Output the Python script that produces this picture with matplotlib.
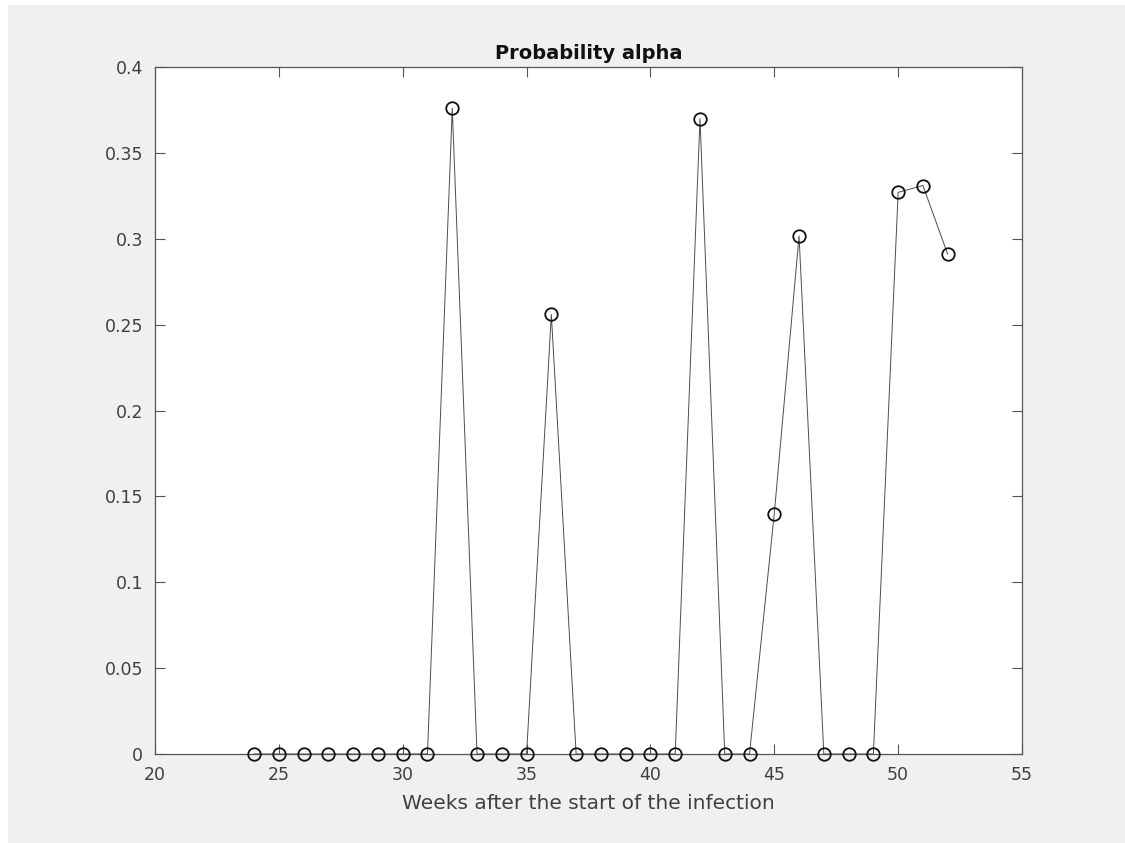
import matplotlib
matplotlib.use('Agg')
import matplotlib.pyplot as plt
from matplotlib.patches import Rectangle

weeks = list(range(24, 53))
alpha = [0, 0, 0, 0, 0, 0, 0, 0,          # 24-31
         0.376, 0, 0, 0,                   # 32-35
         0.256, 0, 0, 0, 0, 0,             # 36-41
         0.370, 0, 0,                      # 42-44
         0.140, 0.3016, 0, 0, 0,           # 45-49
         0.327, 0.331, 0.291]              # 50-52

xticks = [20, 25, 30, 35, 40, 45, 50, 55]
yticks = [0, 0.05, 0.1, 0.15, 0.2, 0.25, 0.3, 0.35, 0.4]
yticklabels = ['0', '0.05', '0.1', '0.15', '0.2', '0.25', '0.3', '0.35', '0.4']

fig = plt.figure(figsize=(11.25, 8.43), dpi=100, facecolor='white')
# MATLAB-style grey panel, with a thin white strip on the left and top
fig.patches.append(Rectangle((8 / 1125, 0), 1 - 8 / 1125, 1 - 5 / 843,
                             transform=fig.transFigure, facecolor='#f0f0f0',
                             edgecolor='none', zorder=-10))

ax = fig.add_axes([155 / 1125, 1 - 754 / 843, (1022 - 155) / 1125, (754 - 67) / 843])
ax.set_facecolor('white')

ax.plot(weeks, alpha, color='#4d4d4d', linewidth=0.7, marker='o',
        markersize=9, markerfacecolor='none', markeredgecolor='#111111',
        markeredgewidth=1.3, clip_on=False, zorder=3)

ax.set_xlim(20, 55)
ax.set_ylim(0, 0.4)
ax.set_xticks(xticks)
ax.set_yticks(yticks)
ax.set_yticklabels(yticklabels)

grey = '#404040'
for sp in ax.spines.values():
    sp.set_color('#555555')
    sp.set_linewidth(0.9)
ax.tick_params(direction='in', length=7, width=0.8, top=True, right=True,
               colors='#555555', labelcolor=grey, labelsize=12.5, pad=8.5)
ax.tick_params(axis='x', pad=8.5)

ax.set_title('Probability alpha', fontsize=14, fontweight='bold', color='#111111', pad=6)
ax.set_xlabel('Weeks after the start of the infection', fontsize=14.5, color=grey, labelpad=7)

fig.savefig('out.png', dpi=100, facecolor=fig.get_facecolor())
